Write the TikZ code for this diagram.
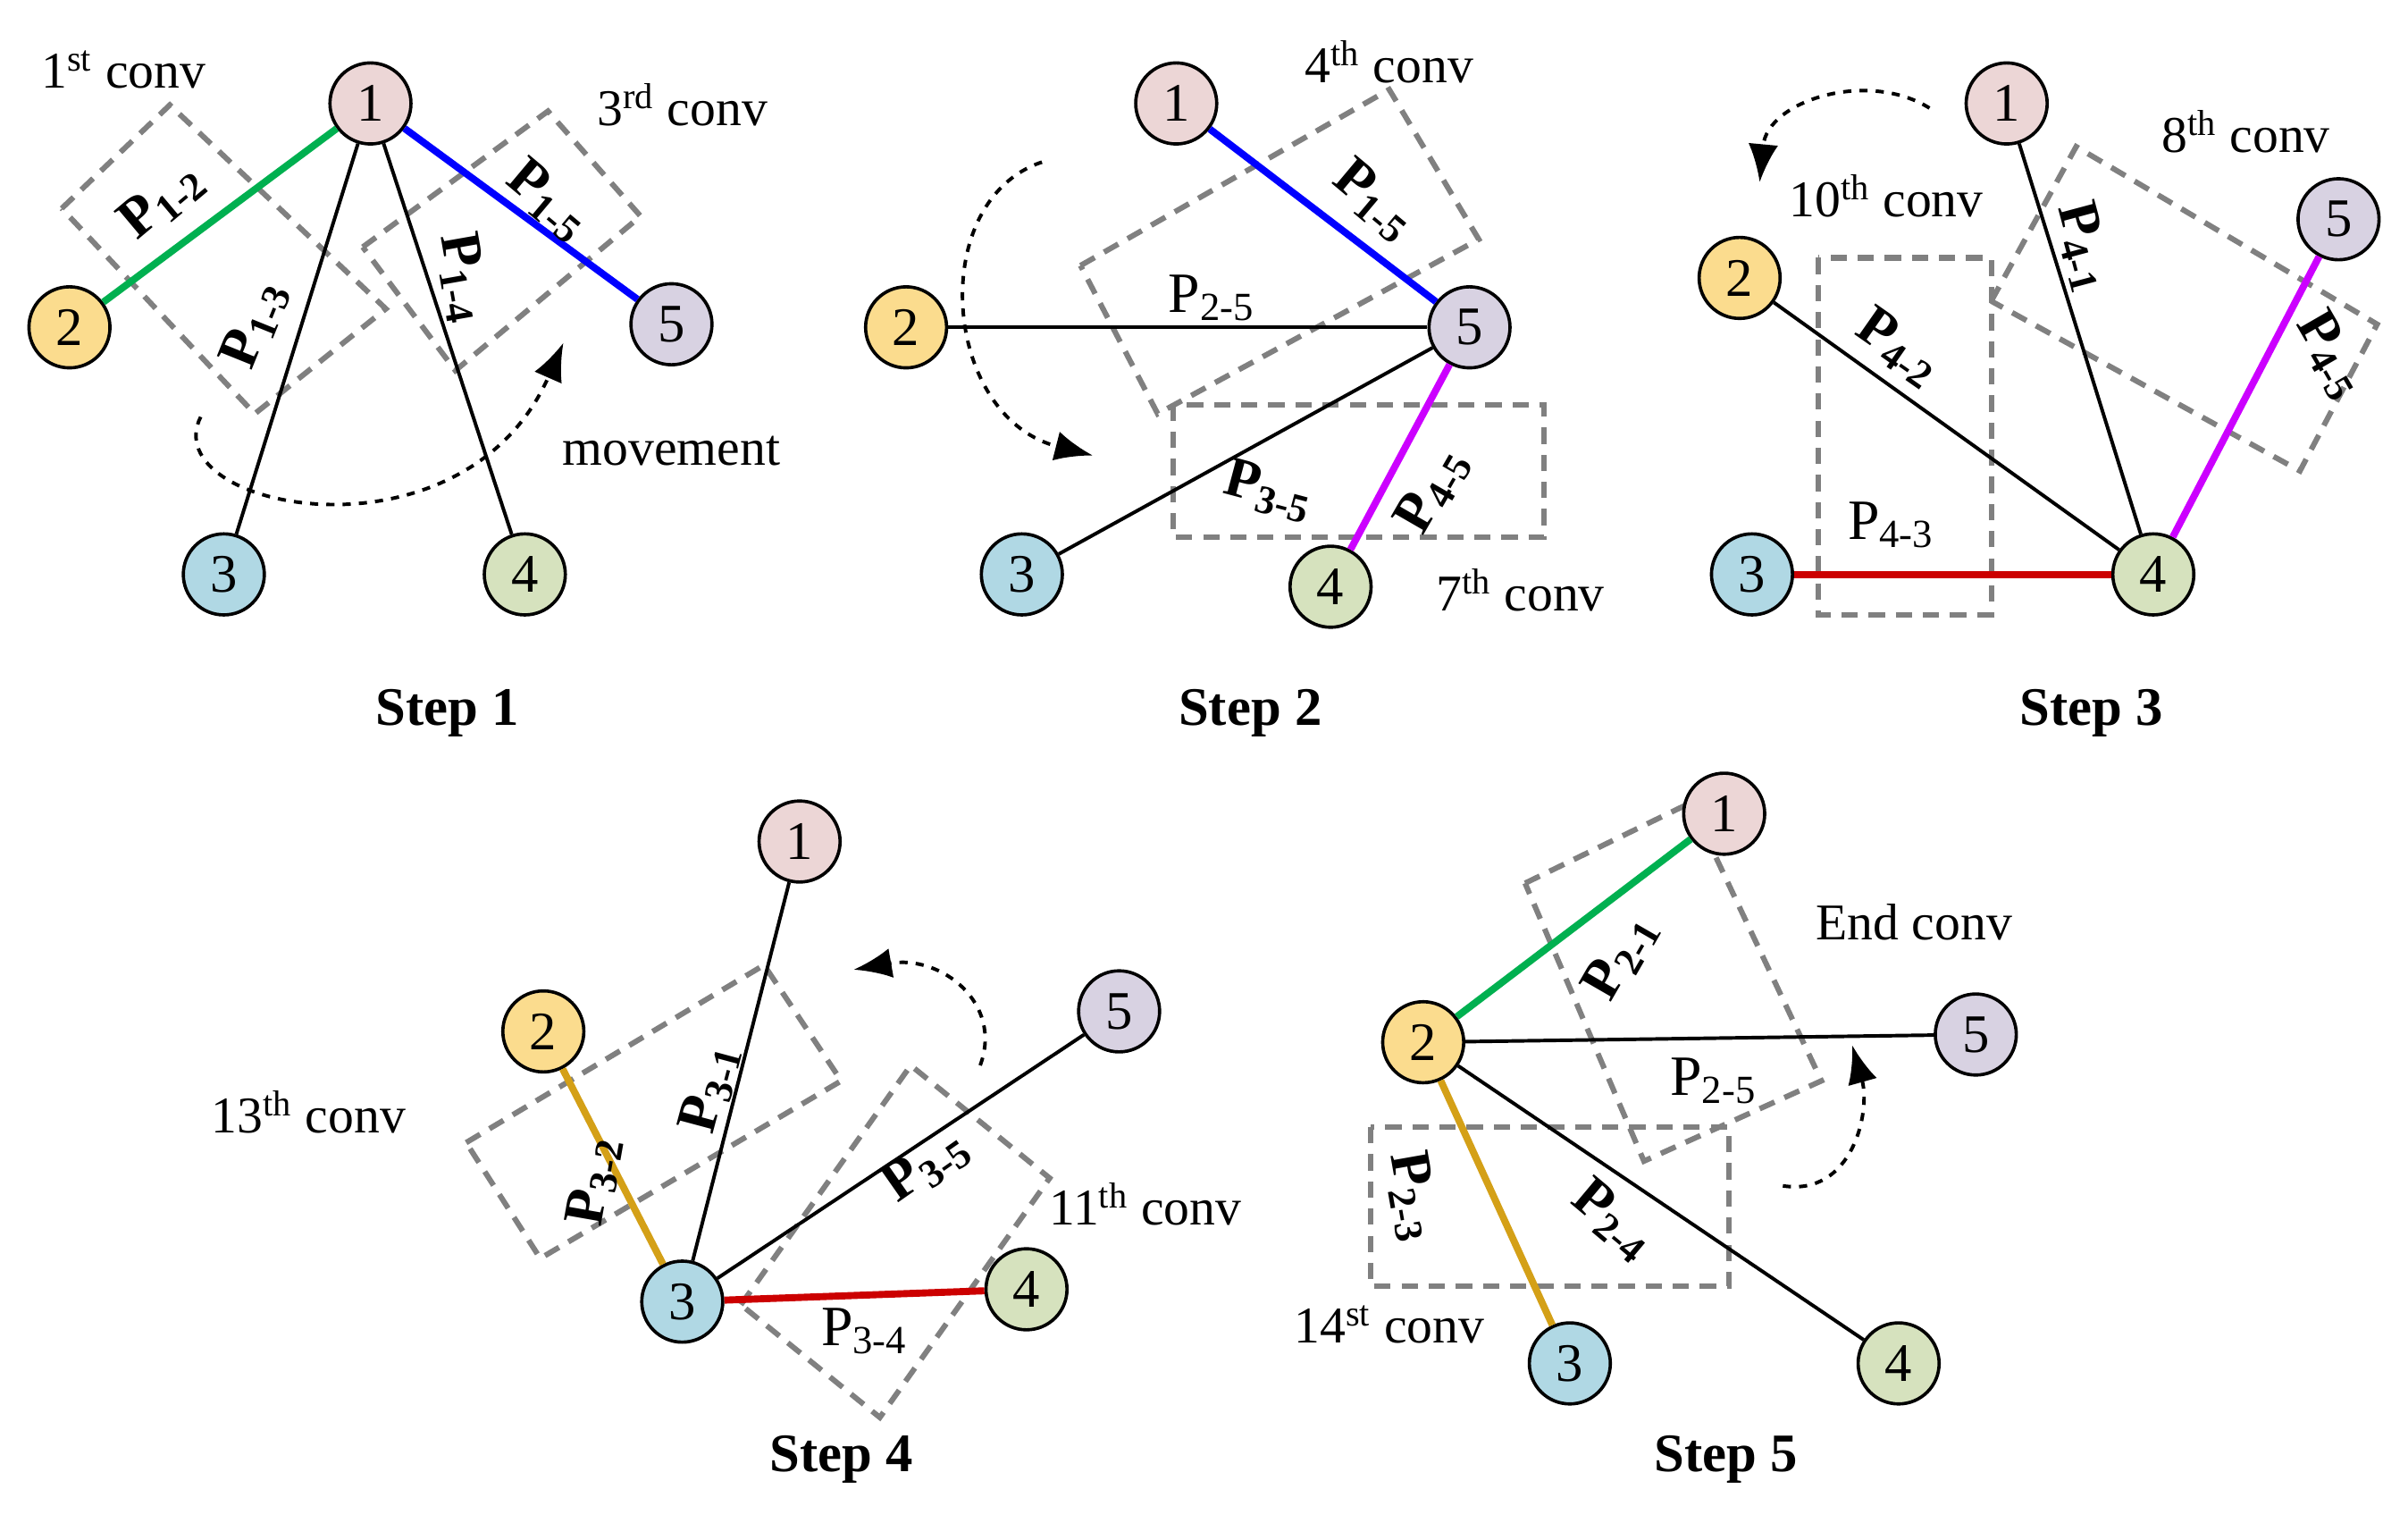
\documentclass[tikz,border=0pt]{standalone}
\usepackage{amsmath}
\usepackage{fontspec}
\setmainfont{Liberation Serif}
\usetikzlibrary{arrows.meta}
\definecolor{colG}{RGB}{0,176,80}
\definecolor{colB}{RGB}{0,0,255}
\definecolor{colM}{RGB}{204,0,255}
\definecolor{colR}{RGB}{204,0,0}
\definecolor{colO}{RGB}{212,160,23}
\definecolor{colX}{RGB}{128,128,128}
\definecolor{f1}{RGB}{236,214,214}
\definecolor{f2}{RGB}{251,220,142}
\definecolor{f3}{RGB}{176,216,228}
\definecolor{f4}{RGB}{214,226,190}
\definecolor{f5}{RGB}{216,210,226}
\begin{document}
\begin{tikzpicture}[x=0.02cm,y=-0.02cm,
  font=\fontsize{19}{21}\selectfont,
  nd/.style={circle,draw,line width=1.2pt,minimum size=1.05cm,inner sep=0pt,font=\fontsize{20}{22}\selectfont},
  c1/.style={nd,fill=f1},
  c2/.style={nd,fill=f2},
  c3/.style={nd,fill=f3},
  c4/.style={nd,fill=f4},
  c5/.style={nd,fill=f5},
  ed/.style={line width=1.3pt},
  ce/.style={line width=2.6pt},
  box/.style={draw=colX,line width=2pt,dash pattern=on 6pt off 4pt},
  mv/.style={line width=1.3pt,dash pattern=on 3pt off 3pt,-{Latex[length=14pt,width=11pt]}},
  lb/.style={font=\fontsize{21}{23}\selectfont\bfseries,inner sep=1pt},
  ln/.style={font=\fontsize{21}{23}\selectfont,inner sep=1pt},
  st/.style={font=\fontsize{20}{22}\selectfont\bfseries}]
\useasboundingbox (0,0) rectangle (1560,986);
% ---------- Step 1
\draw[box] (40,135)--(110,68)--(250,200)--(165,268)--cycle;
\draw[box] (235,160)--(355,72)--(415,140)--(295,240)--cycle;
\node[c1] (a1) at (240,67) {1};
\node[c2] (a2) at (45,212) {2};
\node[c3] (a3) at (145,372) {3};
\node[c4] (a4) at (340,372) {4};
\node[c5] (a5) at (435,210) {5};
\draw[ce,colG] (a1)--(a2);
\draw[ed] (a1)--(a3);
\draw[ed] (a1)--(a4);
\draw[ce,colB] (a1)--(a5);
\node[lb,rotate=40] (l12) at (105,130) {P$_{\text{1-2}}$};
\node[lb,rotate=68] (l13) at (165,210) {P$_{\text{1-3}}$};
\node[lb,rotate=-80] (l14) at (300,180) {P$_{\text{1-4}}$};
\node[lb,rotate=-40] (l15) at (355,130) {P$_{\text{1-5}}$};
\node (t1) at (80,45) {1$^{\text{st}}$ conv};
\node (t3) at (442,68) {3$^{\text{rd}}$ conv};
\node (tm) at (435,292) {movement};
\coordinate (m1a) at (130,270); \coordinate (m1b) at (365,222);
\draw[mv] (m1a) .. controls (100,330) and (300,370) .. (m1b);
\node[st] (s1) at (290,462) {Step 1};
% ---------- Step 2
\draw[box] (700,172)--(900,58)--(958,155)--(750,268)--cycle;
\draw[box] (760,262) rectangle (1000,348);
\node[c1] (b1) at (762,67) {1};
\node[c2] (b2) at (587,212) {2};
\node[c3] (b3) at (662,372) {3};
\node[c4] (b4) at (862,380) {4};
\node[c5] (b5) at (952,212) {5};
\draw[ce,colB] (b1)--(b5);
\draw[ed] (b2)--(b5);
\draw[ed] (b3)--(b5);
\draw[ce,colM] (b4)--(b5);
\node[lb,rotate=-40] (k15) at (890,130) {P$_{\text{1-5}}$};
\node[ln] (k25) at (785,193) {P$_{\text{2-5}}$};
\node[lb,rotate=-15] (k35) at (822,318) {P$_{\text{3-5}}$};
\node[lb,rotate=60] (k45) at (928,318) {P$_{\text{4-5}}$};
\node (t4) at (900,40) {4$^{\text{th}}$ conv};
\node (t7) at (985,382) {7$^{\text{th}}$ conv};
\coordinate (m2a) at (675,105); \coordinate (m2b) at (708,295);
\draw[mv] (m2a) .. controls (600,130) and (610,270) .. (m2b);
\node[st] (s2) at (810,462) {Step 2};
% ---------- Step 3
\draw[box] (1178,167) rectangle (1290,398);
\draw[box] (1290,195)--(1345,95)--(1540,210)--(1490,305)--cycle;
\node[c1] (c1) at (1300,67) {1};
\node[c2] (c2) at (1127,180) {2};
\node[c3] (c3) at (1135,372) {3};
\node[c4] (c4) at (1395,372) {4};
\node[c5] (c5) at (1515,142) {5};
\draw[ed] (c1)--(c4);
\draw[ed] (c2)--(c4);
\draw[ce,colR] (c3)--(c4);
\draw[ce,colM] (c5)--(c4);
\node[lb,rotate=-75] (j41) at (1350,160) {P$_{\text{4-1}}$};
\node[lb,rotate=-35] (j42) at (1230,225) {P$_{\text{4-2}}$};
\node[ln] (j43) at (1225,340) {P$_{\text{4-3}}$};
\node[lb,rotate=-60] (j45) at (1510,230) {P$_{\text{4-5}}$};
\node (t8) at (1455,85) {8$^{\text{th}}$ conv};
\node (t10) at (1222,127) {10$^{\text{th}}$ conv};
\coordinate (m3a) at (1250,70); \coordinate (m3b) at (1140,118);
\draw[mv] (m3a) .. controls (1210,45) and (1145,65) .. (m3b);
\node[st] (s3) at (1355,462) {Step 3};
% ---------- Step 4
\draw[box] (302,740)--(495,625)--(545,700)--(350,815)--cycle;
\draw[box] (480,845)--(590,690)--(680,763)--(570,918)--cycle;
\node[c1] (d1) at (518,545) {1};
\node[c2] (d2) at (352,668) {2};
\node[c3] (d3) at (442,843) {3};
\node[c4] (d4) at (665,835) {4};
\node[c5] (d5) at (725,655) {5};
\draw[ed] (d3)--(d1);
\draw[ce,colO] (d3)--(d2);
\draw[ce,colR] (d3)--(d4);
\draw[ed] (d3)--(d5);
\node[lb,rotate=75] (i31) at (460,705) {P$_{\text{3-1}}$};
\node[lb,rotate=80] (i32) at (385,765) {P$_{\text{3-2}}$};
\node[lb,rotate=35] (i35) at (600,755) {P$_{\text{3-5}}$};
\node[ln] (i34) at (560,862) {P$_{\text{3-4}}$};
\node (t13) at (200,720) {13$^{\text{th}}$ conv};
\node (t11) at (742,780) {11$^{\text{th}}$ conv};
\coordinate (m4a) at (635,690); \coordinate (m4b) at (553,628);
\draw[mv] (m4a) .. controls (650,650) and (610,618) .. (m4b);
\node[st] (s4) at (545,945) {Step 4};
% ---------- Step 5
\draw[box] (988,572)--(1095,520)--(1180,700)--(1065,752)--cycle;
\draw[box] (888,730) rectangle (1120,833);
\node[c1] (e1) at (1117,527) {1};
\node[c2] (e2) at (922,675) {2};
\node[c3] (e3) at (1017,883) {3};
\node[c4] (e4) at (1230,883) {4};
\node[c5] (e5) at (1280,670) {5};
\draw[ce,colG] (e2)--(e1);
\draw[ed] (e2)--(e5);
\draw[ce,colO] (e2)--(e3);
\draw[ed] (e2)--(e4);
\node[lb,rotate=60] (h21) at (1050,620) {P$_{\text{2-1}}$};
\node[ln] (h25) at (1110,700) {P$_{\text{2-5}}$};
\node[lb,rotate=-80] (h23) at (915,775) {P$_{\text{2-3}}$};
\node[lb,rotate=-40] (h24) at (1045,790) {P$_{\text{2-4}}$};
\node (tend) at (1240,597) {End conv};
\node (t14) at (900,858) {14$^{\text{st}}$ conv};
\coordinate (m5a) at (1155,768); \coordinate (m5b) at (1200,677);
\draw[mv] (m5a) .. controls (1200,775) and (1212,720) .. (m5b);
\node[st] (s5) at (1118,945) {Step 5};
\end{tikzpicture}
\end{document}
